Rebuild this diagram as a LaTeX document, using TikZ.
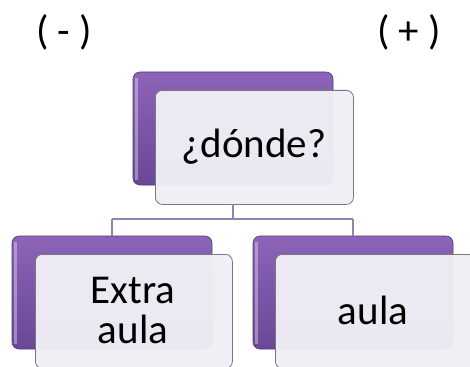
\documentclass[tikz,border=0pt]{standalone}
\usepackage{fontspec}
\setmainfont{Carlito}
\usetikzlibrary{positioning}
\definecolor{purpTop}{RGB}{140,100,185}
\definecolor{purpBot}{RGB}{105,72,150}
\definecolor{cardFill}{RGB}{241,238,245}
\definecolor{cardEdge}{RGB}{120,120,125}
\definecolor{linkCol}{RGB}{150,130,175}
\tikzset{
  backbox/.style={rounded corners=7pt, top color=purpTop, bottom color=purpBot, draw=purpBot!80!black, line width=0.6pt},
  card/.style={rounded corners=7pt, fill=cardFill, fill opacity=0.97, draw=cardEdge, line width=0.8pt, text opacity=1},
  lbl/.style={font=\fontsize{41}{46}\selectfont, align=center, text=black},
  signs/.style={font=\fontsize{41}{46}\selectfont, text=black},
  link/.style={draw=linkCol, line width=1.2pt}
}
\begin{document}
\begin{tikzpicture}[x=1pt,y=-1pt]
\useasboundingbox (0,0) rectangle (470,366);
\clip (0,0) rectangle (470,366);
% signs
\node[signs] (minus) at (64,32) {(~-~)};
\node[signs] (plus) at (409,32) {(~+~)};
% top
\draw[backbox] (133,72) rectangle (333,185);
\fill[white, opacity=0.35] (135,78) rectangle (138,180);
\node[card, minimum width=198pt, minimum height=114pt, anchor=north west] (top) at (155,90) {};
\node[lbl] (toptxt) at (254,147) {¿dónde?};
% left
\draw[backbox] (12,236) rectangle (212,349);
\fill[white, opacity=0.35] (14,242) rectangle (17,344);
\node[card, minimum width=197pt, minimum height=114pt, anchor=north west] (left) at (35,254) {};
\node[lbl] (lefttxt) at (133,310) {Extra\\[-6pt]aula};
% right
\draw[backbox] (253,236) rectangle (453,349);
\fill[white, opacity=0.35] (255,242) rectangle (258,344);
\node[card, minimum width=200pt, minimum height=114pt, anchor=north west] (right) at (275,254) {};
\node[lbl] (righttxt) at (373,310) {aula};
% connectors
\coordinate (j) at (233,219);
\draw[link] (233,204) -- (j);
\draw[link] (112,219) -- (353,219);
\draw[link] (112,219) -- (112,236);
\draw[link] (353,219) -- (353,236);
\end{tikzpicture}
\end{document}
